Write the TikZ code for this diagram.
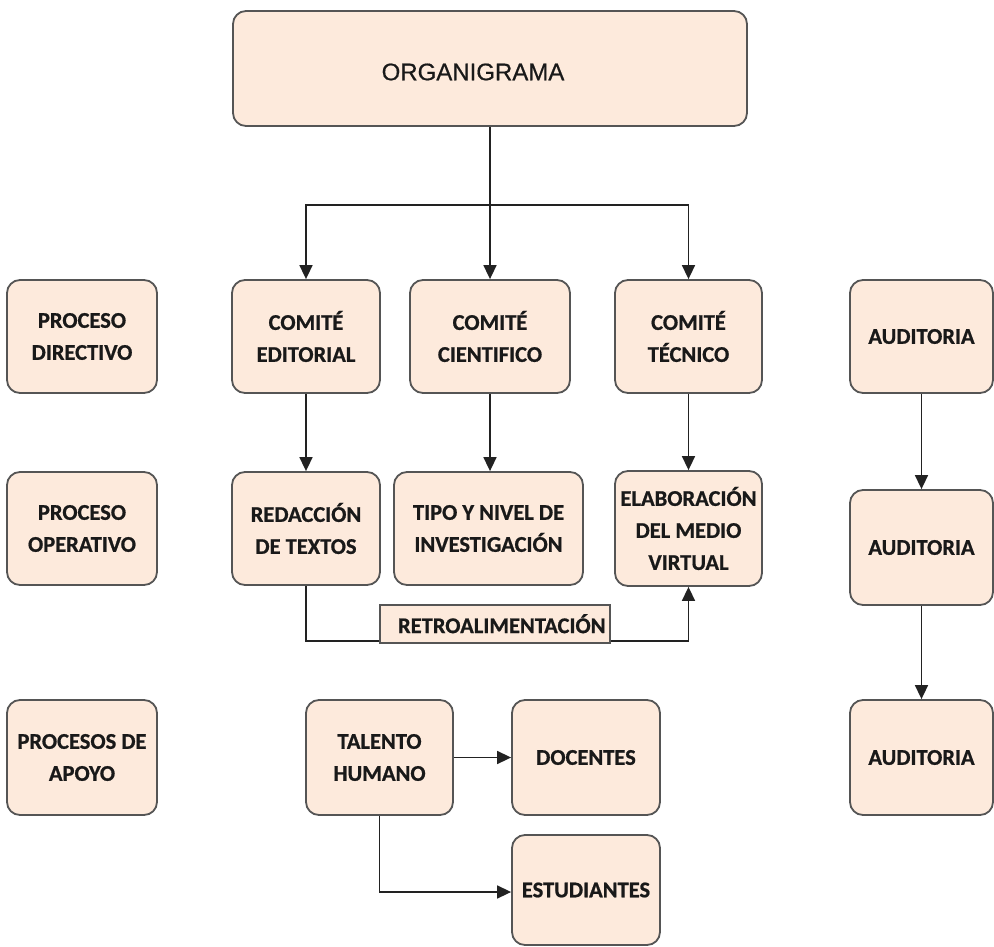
\documentclass[tikz,border=0pt]{standalone}
\usepackage{fontspec}
\setmainfont{Carlito}[BoldFeatures={FakeBold=0.8}]
\newfontfamily\arialfont{Liberation Sans}[FakeBold=0.6]
\usetikzlibrary{arrows.meta}
\definecolor{boxfill}{HTML}{FDEADC}
\definecolor{boxline}{HTML}{555555}
\definecolor{lineclr}{HTML}{222222}
\tikzset{
  orgbox/.style={draw=boxline, line width=1.8bp, fill=boxfill, rounded corners=13bp,
    inner sep=0pt, align=center, text=black!90,
    font=\fontsize{22.5bp}{32bp}\selectfont\bfseries},
  conn/.style={draw=lineclr, line width=1.6bp, -{Triangle[length=14bp,width=13bp]}},
  plain/.style={draw=lineclr, line width=1.6bp},
  labelbox/.style={draw=boxline, line width=1.5bp, fill=boxfill, inner sep=0pt,
    minimum width=230bp, minimum height=38bp, text=black!90,
    font=\fontsize{22.5bp}{26bp}\selectfont\bfseries}
}
\begin{document}
\begin{tikzpicture}[x=1bp,y=-1bp]
\useasboundingbox (0,0) rectangle (994,947);
% top
\node[orgbox, minimum width=514bp, minimum height=115bp] (org) at (490,68.5) {};
\node[font=\arialfont\fontsize{24bp}{28bp}\selectfont, text=black!90, inner sep=0pt] (orgtext) at (473,72) {ORGANIGRAMA};
% row 1
\node[orgbox, minimum width=150bp, minimum height=113bp] (pd) at (82,336.5) {PROCESO\\DIRECTIVO};
\node[orgbox, minimum width=148bp, minimum height=113bp] (ce) at (306,336.5) {COMITÉ\\EDITORIAL};
\node[orgbox, minimum width=160bp, minimum height=113bp] (cc) at (490,336.5) {COMITÉ\\CIENTIFICO};
\node[orgbox, minimum width=147bp, minimum height=113bp] (ct) at (688.5,336.5) {COMITÉ\\TÉCNICO};
\node[orgbox, minimum width=143bp, minimum height=113bp] (a1) at (921.5,336.5) {AUDITORIA};
% row 2
\node[orgbox, minimum width=150bp, minimum height=113bp] (po) at (82,528.5) {PROCESO\\OPERATIVO};
\node[orgbox, minimum width=148bp, minimum height=113bp] (rt) at (306,528.5) {REDACCIÓN\\DE TEXTOS};
\node[orgbox, minimum width=189bp, minimum height=113bp] (tn) at (488.5,528.5) {TIPO Y NIVEL DE\\INVESTIGACIÓN};
\node[orgbox, minimum width=147bp, minimum height=115bp] (em) at (688.5,528.5) {ELABORACIÓN\\DEL MEDIO\\VIRTUAL};
\node[orgbox, minimum width=143bp, minimum height=115bp] (a2) at (921.5,547.5) {AUDITORIA};
% row 3
\node[orgbox, minimum width=150bp, minimum height=115bp] (pa) at (82,757.5) {PROCESOS DE\\APOYO};
\node[orgbox, minimum width=147bp, minimum height=115bp] (th) at (379.5,757.5) {TALENTO\\HUMANO};
\node[orgbox, minimum width=148bp, minimum height=115bp] (doc) at (586,757.5) {DOCENTES};
\node[orgbox, minimum width=148bp, minimum height=110bp] (est) at (586,890) {ESTUDIANTES};
\node[orgbox, minimum width=143bp, minimum height=115bp] (a3) at (921.5,757.5) {AUDITORIA};
% connectors from top
\coordinate (split) at (490,205);
\draw[plain] (org.south) -- (split);
\draw[conn] (split) -| (ce.north);
\draw[conn] (split) -- (cc.north);
\draw[conn] (split) -| (ct.north);
% committees down
\draw[conn] (ce) -- (rt);
\draw[conn] (cc.south) -- (cc.south |- tn.north);
\draw[conn] (ct) -- (em);
% feedback
\coordinate (fb) at (306,641);
\draw[conn] (rt.south) -- (fb) -| (em.south);
\node[labelbox, anchor=north west] (retro) at (379,604) {\hspace*{14bp}RETROALIMENTACIÓN\hfill};
% auditoria chain
\draw[conn] (a1) -- (a2);
\draw[conn] (a2) -- (a3);
% support
\draw[conn] (th.east |- doc.west) -- (doc.west);
\coordinate (tb) at (379.5,892);
\draw[conn] (th.south) -- (tb) -- (est.west |- tb);
\end{tikzpicture}
\end{document}
